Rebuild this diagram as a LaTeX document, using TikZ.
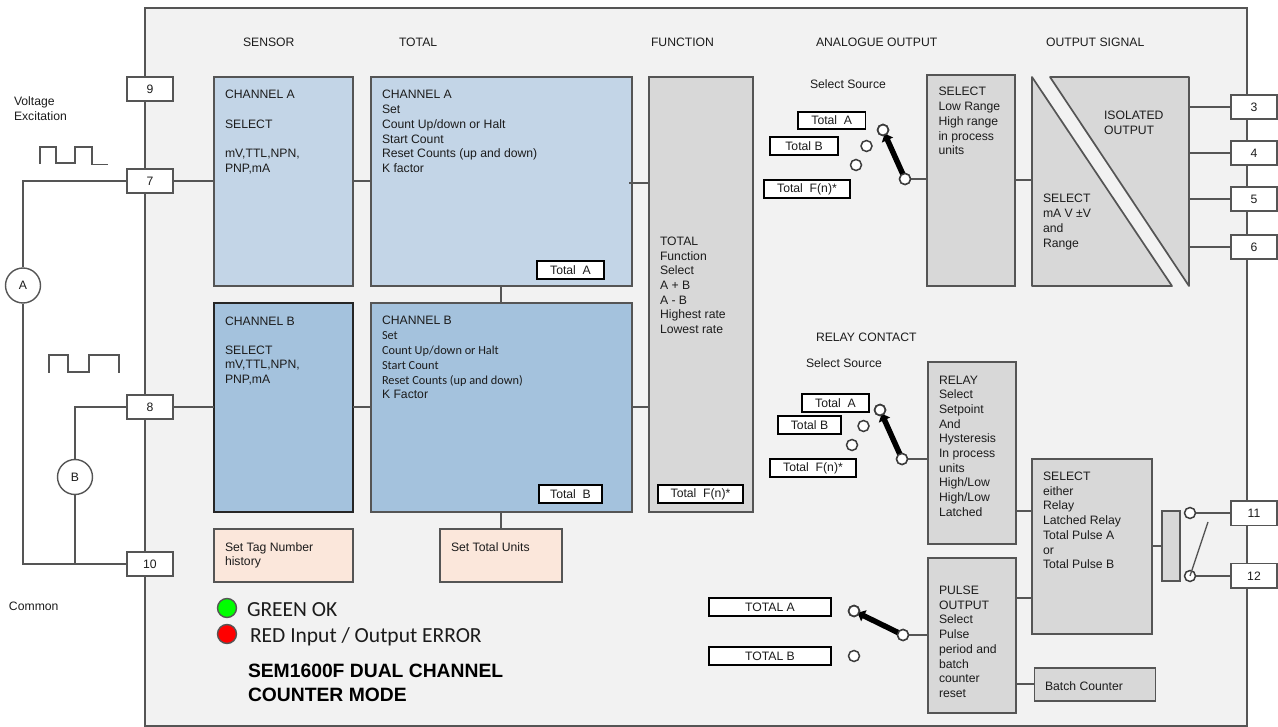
\documentclass[tikz,border=0pt]{standalone}
\usepackage{fontspec}
\setmainfont{Liberation Sans}
\newfontfamily\carl{Carlito}
\usetikzlibrary{arrows.meta}
\definecolor{edge}{HTML}{555555}
\definecolor{panelc}{HTML}{F2F2F2}
\definecolor{blueA}{HTML}{C3D5E7}
\definecolor{blueB}{HTML}{A4C2DD}
\definecolor{greyb}{HTML}{D8D8D8}
\definecolor{peach}{HTML}{FBE7DB}
\definecolor{inkc}{HTML}{1C1C1C}
\tikzset{
  x=1pt,y=-1pt,
  wire/.style={draw=edge,line width=1.6pt},
  blk/.style={draw=edge,line width=1.7pt,inner sep=0pt,outer sep=0pt,anchor=north west},
  lab/.style={blk,draw=black,fill=white,text=inkc,font=\fontsize{12.2}{14}\selectfont},
  term/.style={blk,fill=white,text=inkc,font=\fontsize{12.2}{14}\selectfont},
  txt/.style={inner sep=0pt,outer sep=0pt,anchor=north west,align=left,text=inkc,font=\fontsize{12.2}{14.7}\selectfont},
  knob/.style={circle,draw=edge!70!black,line width=1.5pt,fill=white,inner sep=0pt,minimum size=11pt,outer sep=0pt},
  lever/.style={line width=5.5pt,black,shorten >=4pt,-{Triangle[length=7pt,width=12pt]}},
  meter/.style={circle,draw=edge,line width=1.4pt,fill=white,inner sep=0pt,minimum size=35pt,text=inkc,font=\fontsize{12.2}{14}\selectfont},
  led/.style={circle,draw=edge,line width=1.4pt,inner sep=0pt,minimum size=19pt}
}
\newcommand\bx[6]{\node[#6,minimum width={(#4-#2)*1pt},minimum height={(#5-#3)*1pt}] (#1) at (#2,#3) {};}
\newcommand\lb[7]{\node[#6,minimum width={(#4-#2)*1pt},minimum height={(#5-#3)*1pt}] (#1) at (#2,#3) {#7};}
\newcommand\tx[4]{\node[txt] (#1) at ({#2},{#3-9}) {\rule{0pt}{9pt}#4};}
\newcommand\cl[1]{{\carl\fontsize{12.3}{15}\selectfont #1}}
\begin{document}
\begin{tikzpicture}
\useasboundingbox (0,0) rectangle (1278,727);
% panel
\bx{panel}{144.5}{8}{1247}{726}{blk,fill=panelc,line width=2pt}

% terminals
\lb{t9}{127}{77}{173}{101}{term}{9}
\lb{t7}{127}{169}{173}{193}{term}{7}
\lb{t8}{127}{395}{173}{419}{term}{8}
\lb{t10}{127}{552}{173}{576}{term}{10}
\lb{t3}{1231}{95}{1277}{119}{term}{3}
\lb{t4}{1231}{141}{1277}{165}{term}{4}
\lb{t5}{1231}{187}{1277}{211}{term}{5}
\lb{t6}{1231}{235}{1277}{259}{term}{6}
\lb{t11}{1231}{501}{1277}{525.5}{term}{11}
\lb{t12}{1231}{563.5}{1277}{588}{term}{12}

% main blocks
\bx{sa}{214}{77}{353}{286}{blk,fill=blueA}
\bx{sb}{214}{303}{353}{512}{blk,fill=blueB,draw=black!85}
\bx{ta}{371}{77}{632}{286}{blk,fill=blueA}
\bx{tb}{371}{303}{632}{512}{blk,fill=blueB}
\bx{fn}{649}{77}{753}{512}{blk,fill=greyb}
\bx{tag}{214}{529}{353}{582}{blk,fill=peach}
\bx{unit}{440}{529}{562}{582}{blk,fill=peach}
\bx{rng}{927}{75}{1015}{286}{blk,fill=greyb}
\bx{rel}{928}{362}{1016}{544}{blk,fill=greyb}
\bx{pul}{928}{558}{1016}{713}{blk,fill=greyb}
\bx{sel}{1032}{459}{1152}{634}{blk,fill=greyb}
\bx{bat}{1034.5}{668}{1155.5}{701}{blk,fill=greyb}
\bx{coil}{1162}{511}{1180}{581}{blk,fill=greyb}

% isolation triangles
\coordinate (triLw) at (1032,180);
\coordinate (triRe) at (1189,180);
\draw[fill=greyb,draw=edge,line width=1.7pt,line join=round] (1032,77) -- (1172,286) -- (1032,286) -- cycle;
\draw[fill=greyb,draw=edge,line width=1.7pt,line join=round] (1050,77) -- (1189,77) -- (1189,286) -- cycle;

% inner labels
\lb{la}{537}{261}{604}{279}{lab}{Total\ \ A}
\lb{lb}{539}{485}{602}{503}{lab}{Total\ \ B}
\lb{lf}{658}{485}{743}{503}{lab}{Total\ \ F(n)*}
\lb{a1}{798}{112}{865.5}{129}{lab}{Total\ \ A}
\lb{a2}{770}{137}{838}{155}{lab}{Total B}
\lb{a3}{764}{180}{850}{198}{lab}{Total\ \ F(n)*}
\lb{r1}{802}{394}{869}{412}{lab}{Total\ \ A}
\lb{r2}{778}{416}{841}{434}{lab}{Total B}
\lb{r3}{770}{459}{856}{477}{lab}{Total\ \ F(n)*}
\lb{p1}{709}{598}{831}{616}{lab}{TOTAL A}
\lb{p2}{709}{647}{831}{665}{lab}{TOTAL B}

% meters
\node[meter] (ca) at (23,285.5) {\raisebox{-3.5pt}{A}};
\node[meter] (cb) at (75,477) {\raisebox{-4pt}{B}};

% wiring
\draw[wire] (t7.west) -| (ca.north);
\draw[wire] (ca.south) |- (t10.west);
\draw[wire] (t8.west) -| (cb.north);
\draw[wire] (cb.south) -- (cb.south |- t10.west);
\draw[wire] (t7.east) -- (sa.west |- t7.east);
\draw[wire] (t8.east) -- (sb.west |- t8.east);
\draw[wire] (sa.east |- t7.east) -- (ta.west |- t7.east);
\draw[wire] (sb.east |- t8.east) -- (tb.west |- t8.east);
\coordinate (taout) at (629,183);
\draw[wire] (taout) -- (fn.west |- taout);
\draw[wire] (tb.east |- t8.east) -- (fn.west |- t8.east);
\coordinate (tab) at (501,286);
\draw[wire] (tab) -- (tab |- tb.north);
\draw[wire] (tab |- tb.south) -- (tab |- unit.north);
\draw[wire] (rng.east |- triLw) -- (triLw);
\draw[wire] (triRe |- t3.west) -- (t3.west);
\draw[wire] (triRe |- t4.west) -- (t4.west);
\draw[wire] (triRe |- t5.west) -- (t5.west);
\draw[wire] (triRe |- t6.west) -- (t6.west);
\coordinate (rs) at (1016,511);
\coordinate (ps) at (1016,598);
\coordinate (sc) at (1152,546);
\coordinate (pb) at (1016,684);
\draw[wire] (rs) -- (sel.west |- rs);
\draw[wire] (ps) -- (sel.west |- ps);
\draw[wire] (sc) -- (coil.west |- sc);
\draw[wire] (pb) -- (bat.west |- pb);

% switches
\node[knob] (k1) at (883,130) {};
\node[knob] (k2) at (866.5,146) {};
\node[knob] (k3) at (856,165) {};
\node[knob] (kp) at (905,179) {};
\draw[wire] (kp.east) -- (rng.west |- kp.east);
\draw[lever] (kp.center) -- (k1.center);
\node[knob] at (kp) {};
\node[knob,fill=none] at (k1) {};

\node[knob] (m1) at (880,410) {};
\node[knob] (m2) at (863.5,426) {};
\node[knob] (m3) at (852,445) {};
\node[knob] (mp) at (902,459) {};
\draw[wire] (mp.east) -- (rel.west |- mp.east);
\draw[lever] (mp.center) -- (m1.center);
\node[knob] at (mp) {};
\node[knob,fill=none] at (m1) {};

\node[knob] (n1) at (854,611) {};
\node[knob] (n2) at (854,656) {};
\node[knob] (np) at (903,635) {};
\draw[wire] (np.east) -- (pul.west |- np.east);
\draw[lever] (np.center) -- (n1.center);
\node[knob] at (np) {};
\node[knob,fill=none] at (n1) {};

\node[knob] (q1) at (1190,513) {};
\node[knob] (q2) at (1190,576) {};
\draw[wire] (q1.east) -- (t11.west |- q1.east);
\draw[wire] (q2.east) -- (t12.west |- q2.east);
\coordinate (lv) at (1208,522);
\draw[draw=edge,line width=1.3pt] (q2.center) -- (lv);

% pulse trains
\coordinate (wa) at (40,164);
\coordinate (wb) at (49,373);
\draw[draw=edge,line width=1.5pt] (wa) -- ++(0,-17) -- ++(16,0) -- ++(0,16) -- ++(19,0) -- ++(0,-16) -- ++(17,0) -- ++(0,17.5) -- ++(16,0);
\draw[draw=edge,line width=1.5pt] (wb) -- ++(0,-18) -- ++(19,0) -- ++(0,17) -- ++(21,0) -- ++(0,-17) -- ++(30,0) -- ++(0,18);

% LEDs
\node[led,fill=green] (ledg) at (227,608) {};
\node[led,fill=red] (ledr) at (227,634) {};

% texts
\tx{hs}{243}{46.5}{SENSOR}
\tx{ht}{399}{46.5}{TOTAL}
\tx{hf}{651}{46.5}{FUNCTION}
\tx{ha}{816}{46.5}{ANALOGUE OUTPUT}
\tx{ho}{1046}{47}{OUTPUT SIGNAL}
\tx{hr}{816}{341.5}{RELAY CONTACT}
\tx{ss1}{810}{88.5}{Select Source}
\tx{ss2}{806}{368}{Select Source}
\tx{tv}{14}{106}{Voltage\\Excitation}
\tx{tc}{9}{610}{Common}

\tx{xsa}{225}{99}{CHANNEL A\\[14.5pt]SELECT\\[14.5pt]mV,TTL,NPN,\\PNP,mA}
\tx{xsb}{225}{325}{CHANNEL B\\[14.5pt]SELECT\\mV,TTL,NPN,\\PNP,mA}
\tx{xta}{382}{99}{CHANNEL A\\Set\\Count Up/down or Halt\\Start Count\\Reset Counts (up and down)\\K factor}
\tx{xtb}{382}{325}{CHANNEL B\\\cl{Set}\\[0.3pt]\cl{Count Up/down or Halt}\\[0.3pt]\cl{Start Count}\\[0.3pt]\cl{Reset Counts (up and down)}\\[-1.2pt]K Factor}
\tx{xfn}{660}{245.5}{TOTAL\\Function\\Select\\A + B\\A - B\\Highest rate\\Lowest rate}
\tx{xtag}{225}{551}{Set Tag Number\\history}
\tx{xunit}{451}{551}{Set Total Units}
\tx{xrng}{938.5}{96}{SELECT\\Low Range\\High range\\in process\\units}
\tx{xtrl}{1043}{203}{SELECT\\mA V ±V\\and\\Range}
\tx{xtrr}{1104}{120}{ISOLATED\\OUTPUT}
\tx{xrel}{939}{384}{RELAY\\Select\\Setpoint\\And\\Hysteresis\\In process\\units\\High/Low\\High/Low\\Latched}
\tx{xpul}{939}{594.5}{PULSE\\OUTPUT\\Select\\Pulse\\period and\\batch\\counter\\reset}
\tx{xsel}{1043}{480.5}{SELECT\\either\\Relay\\Latched Relay\\Total Pulse A\\or\\Total Pulse B}
\tx{xbat}{1045}{690}{Batch Counter}

\node[txt,anchor=base west,font=\carl\fontsize{21.5}{24}\selectfont] (tg) at (247,616) {GREEN OK};
\node[txt,anchor=base west,font=\carl\fontsize{21.5}{24}\selectfont] (tr) at (250,642) {RED Input / Output ERROR};
\node[txt,anchor=north west,text=black,font=\bfseries\fontsize{19.3}{23.3}\selectfont] (title) at (248,664.5) {SEM1600F DUAL CHANNEL\\COUNTER MODE};
\end{tikzpicture}
\end{document}
